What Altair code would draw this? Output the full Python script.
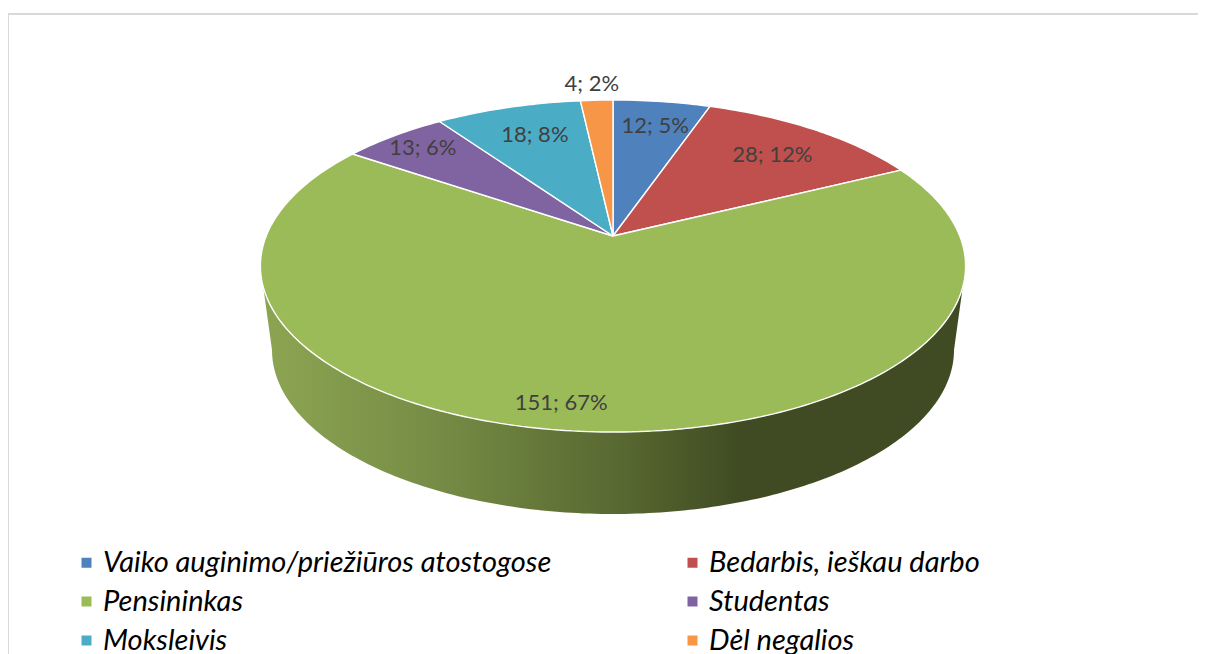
import numpy as np
import pandas as pd
import altair as alt

categories = ["Vaiko auginimo/priežiūros atostogose", "Bedarbis, ieškau darbo", "Pensininkas",
              "Studentas", "Moksleivis", "Dėl negalios"]
values = [12, 28, 151, 13, 18, 4]
percents = [5, 12, 67, 6, 8, 2]
colors = ["#4F81BD", "#C0504D", "#9BBB59", "#8064A2", "#4BACC6", "#F79646"]
label_radius = [0.794, 0.7506, 0.8845, 0.8607, 0.7537, 1.144]
label_turn = [0.5, 0.9, 4.2, 0.4, 1.0, -0.5]

FONT = "Lato"
W, H = 1190, 646
CX, CY, A, B, P = 613.0, 236.0, 346.8, 160.6, 0.1807


def project(theta, r=1.0):
    u, v = np.sin(theta) * r, np.cos(theta) * r
    d = 1 + P * v
    return CX + A * u / d, CY - B * v / d


total = sum(values)
edges = np.cumsum([0] + values) / total * 2 * np.pi
rows = []
for i, c in enumerate(categories):
    n = max(int(np.degrees(edges[i + 1] - edges[i])), 2)
    th = np.linspace(edges[i], edges[i + 1], n)
    xs, ys = project(th)
    pts = [(CX, CY)] + list(zip(xs, ys)) + [(CX, CY)]
    for k, (x, y) in enumerate(pts):
        rows.append({"cat": c, "k": k, "X": float(x), "Y": float(y)})
slices = pd.DataFrame(rows)

# side wall: front rim of the top face, then front of the base ellipse
th = np.radians(np.linspace(0, 360, 721))
rx, ry = project(th)
front = ry >= 287
order = np.argsort(rx[front])
rim_x, rim_y = rx[front][order], ry[front][order]
BA, BB, BY = 341.0, 164.0, 350.0
t = np.radians(np.linspace(0, 180, 181))
bx, by = 613 + BA * np.cos(t), BY + BB * np.sin(t)
wall = pd.DataFrame({"X": np.r_[rim_x, bx, rim_x[:1]], "Y": np.r_[rim_y, by, rim_y[:1]]})
wall["k"] = range(len(wall))

mids = (edges[:-1] + edges[1:]) / 2
lx, ly = project(mids + np.radians(label_turn), np.array(label_radius))
labels = pd.DataFrame({"X": lx, "Y": ly,
                       "text": [f"{v}; {p}%" for v, p in zip(values, percents)]})

xs = alt.Scale(domain=[8, 8 + W], range=[0, W], nice=False, zero=False)
ys = alt.Scale(domain=[8, 8 + H], range=[0, H], nice=False, zero=False)
X = alt.X("X:Q", scale=xs, axis=None)
Y = alt.Y("Y:Q", scale=ys, axis=None)

gradient = alt.LinearGradient(
    gradient="linear", x1=0, x2=1, y1=0, y2=0,
    stops=[alt.GradientStop(color="#8CA552", offset=0),
           alt.GradientStop(color="#768C45", offset=0.25),
           alt.GradientStop(color="#566730", offset=0.52),
           alt.GradientStop(color="#404B23", offset=0.68),
           alt.GradientStop(color="#404B23", offset=1)])

wall_layer = alt.Chart(wall).mark_line(fill=gradient, strokeWidth=0).encode(
    x=X, y=Y, order="k:Q")

slice_layer = alt.Chart(slices).mark_line(stroke="white", strokeWidth=1.4, strokeJoin="bevel").encode(
    x=X, y=Y, order="k:Q",
    fill=alt.Fill("cat:N", scale=alt.Scale(domain=categories, range=colors),
                  legend=alt.Legend(
                      orient="none", legendX=64, legendY=540, columns=2, direction="horizontal", title=None,
                      symbolType="square", symbolSize=100, symbolStrokeWidth=0,
                      labelFont=FONT, labelFontStyle="italic", labelFontSize=29, labelColor="#000000",
                      labelOffset=2, labelLimit=600, columnPadding=126, rowPadding=9)),
)

text_layer = alt.Chart(labels).mark_text(font=FONT, fontSize=22, color="#404040").encode(
    x=X, y=Y, text="text:N")

border_top = alt.Chart(pd.DataFrame({"X": [8, 8 + W], "Y": [14, 14]})).mark_line(
    color="#D9D9D9", strokeWidth=2).encode(x=X, y=Y)
border_left = alt.Chart(pd.DataFrame({"X": [8, 8], "Y": [14, 8 + H]})).mark_line(
    color="#D9D9D9", strokeWidth=2).encode(x=X, y=Y)

chart = alt.layer(
    border_top, border_left, wall_layer, slice_layer, text_layer
).properties(width=W, height=H, padding=0, background="white",
             autosize=alt.AutoSizeParams(type="none")).configure_view(stroke=None)

chart.save("out.html", embed_options={"renderer": "svg", "actions": False})
